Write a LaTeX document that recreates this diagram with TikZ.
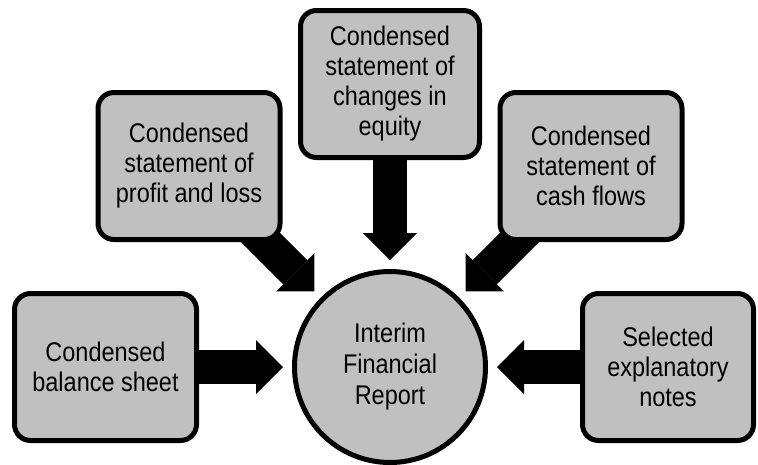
\documentclass[tikz,border=0pt]{standalone}
\usepackage{fontspec}
\newfontfamily\diagfont{Liberation Sans}[FakeStretch=0.87]
\usetikzlibrary{positioning,arrows.meta,backgrounds}
\definecolor{boxgray}{RGB}{192,192,192}

\begin{document}
\begin{tikzpicture}[x=1pt,y=-1pt,
  infobox/.style={draw,line width=5pt,fill=boxgray,rounded corners=16pt,
    minimum width=182pt,minimum height=147pt,inner sep=0pt,align=center,
    font=\diagfont\fontsize{27}{30}\selectfont},
  hub/.style={circle,draw,line width=5pt,fill=boxgray,minimum size=191pt,
    inner sep=0pt,align=center,font=\diagfont\fontsize{27}{31}\selectfont},
  bigarrow/.style={line width=34pt,shorten >=9pt,
    -{Triangle[length=27pt,width=54pt,line width=0pt]}}]
  \useasboundingbox (0,0) rectangle (758,464);
  % centre
  \node[hub] (report) at (390,367) {Interim\\Financial\\Report};
  % statements round it
  \node[infobox] (balance) at (105.5,367) {Condensed\\balance sheet};
  \node[infobox] (profit) at (189,166) {Condensed\\statement of\\profit and loss};
  \node[infobox,minimum width=179pt] (equity) at (390,84) {Condensed\\statement of\\changes in\\equity};
  \node[infobox] (cash) at (591,166) {Condensed\\statement of\\cash flows};
  \node[infobox,minimum width=171pt] (notes) at (668,367) {Selected\\explanatory\\notes};
  % arrows behind the boxes
  \begin{scope}[on background layer]
    \draw[bigarrow] (balance.center) -- (report);
    \draw[bigarrow] (profit.center) -- (report);
    \draw[bigarrow] (equity.center) -- (report);
    \draw[bigarrow] (cash.center) -- (report);
    \draw[bigarrow] (notes.center) -- (report);
  \end{scope}
\end{tikzpicture}
\end{document}
